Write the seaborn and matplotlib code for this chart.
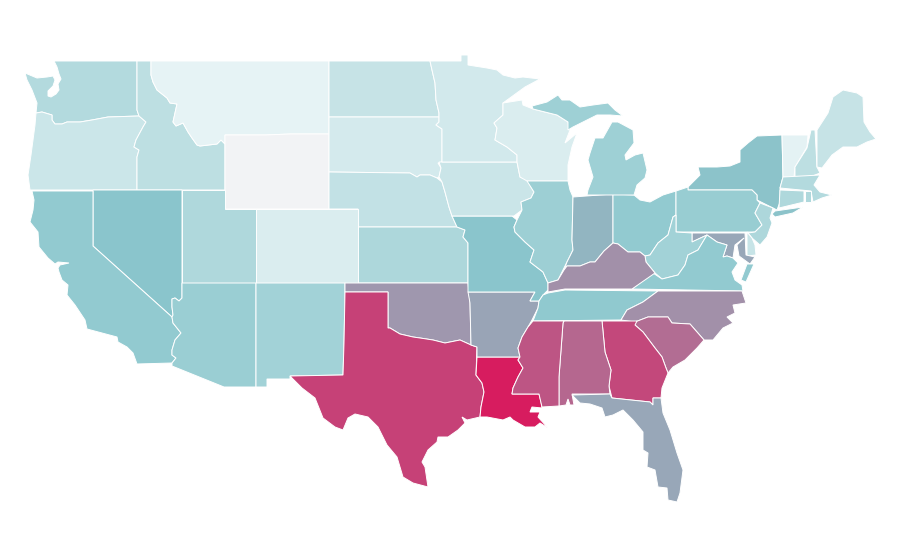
import matplotlib.pyplot as plt
import pandas as pd
import seaborn as sns

sns.set_theme(style="white")

WA = [(54, 61), (137, 61), (137, 110), (139, 116), (108, 117), (92, 120), (80, 122), (67, 122), (62, 124), (55, 124),
      (52, 120), (52, 115), (42, 112), (36, 113), (37, 103), (32, 90), (27, 80), (25, 73), (37, 78), (47, 77), (53, 76),
      (55, 80), (53, 86), (48, 91), (48, 96), (51, 97), (56, 94), (59, 90), (58, 84), (61, 79), (59, 74), (57, 67)]
OR = [(36, 113), (42, 112), (52, 115), (52, 120), (55, 124), (62, 124), (67, 122), (80, 122), (92, 120), (108, 117),
      (139, 116), (146, 122), (143, 127), (136, 140), (134, 147), (139, 150), (137, 157), (137, 190), (30, 190),
      (28, 175), (31, 155), (33, 140), (35, 125)]
ID = [(137, 61), (151, 61), (151, 75), (153, 82), (157, 90), (167, 98), (170, 103), (177, 104), (175, 113), (173, 122),
      (176, 126), (183, 123), (188, 132), (192, 138), (197, 145), (200, 146), (217, 144), (221, 140), (225, 144),
      (225, 190), (137, 190), (137, 157), (139, 150), (134, 147), (136, 140), (143, 127), (146, 122), (139, 116),
      (137, 110)]
MT = [(151, 61), (329, 61), (329, 134), (290, 134), (265, 135), (225, 135), (225, 144), (221, 140), (217, 144),
      (200, 146), (197, 145), (192, 138), (188, 132), (183, 123), (176, 126), (173, 122), (175, 113), (177, 104),
      (170, 103), (167, 98), (157, 90), (153, 82), (151, 75)]
WY = [(225, 135), (265, 135), (290, 134), (329, 134), (329, 209), (225, 209)]
ND = [(329, 61), (430, 61), (432, 70), (435, 83), (436, 100), (439, 113), (439, 117), (329, 117)]
SD = [(329, 117), (439, 117), (439, 122), (436, 125), (442, 129), (442, 162), (438, 163), (441, 168), (439, 177),
      (437, 178), (430, 175), (420, 175), (417, 177), (410, 173), (329, 172)]
NE = [(329, 172), (410, 173), (417, 177), (420, 175), (430, 175), (437, 178), (442, 182), (445, 192), (449, 207),
      (452, 216), (457, 227), (358, 227), (358, 209), (329, 209)]
KS = [(358, 227), (457, 227), (465, 230), (463, 237), (468, 243), (468, 283), (358, 283)]
CO = [(256, 209), (358, 209), (358, 283), (256, 283)]
UT = [(182, 190), (225, 190), (225, 209), (256, 209), (256, 283), (182, 283)]
NV = [(93, 190), (182, 190), (182, 298), (179, 301), (175, 298), (172, 299), (172, 307), (173, 315), (172, 317),
      (93, 246)]
CA = [(32, 191), (93, 191), (93, 246), (172, 317), (173, 323), (181, 333), (175, 340), (172, 350), (172, 355),
      (176, 358), (172, 363), (137, 364), (133, 353), (127, 347), (118, 342), (117, 337), (102, 333), (87, 329),
      (85, 320), (75, 305), (67, 295), (68, 285), (62, 280), (59, 272), (58, 268), (60, 265), (69, 263), (58, 262),
      (55, 264), (48, 258), (39, 247), (38, 232), (30, 222), (33, 210), (34, 200)]
AZ = [(182, 283), (256, 283), (256, 387), (224, 387), (172, 366), (172, 363), (176, 358), (172, 355), (172, 350),
      (175, 340), (181, 333), (173, 323), (172, 317), (173, 315), (172, 307), (172, 299), (175, 298), (179, 301),
      (182, 298)]
NM = [(256, 283), (345, 283), (345, 292), (344, 343), (343, 375), (290, 376), (290, 379), (267, 379), (267, 387),
      (256, 387)]
OK = [(345, 283), (468, 283), (470, 303), (471, 345), (460, 340), (445, 343), (433, 340), (420, 338), (413, 337),
      (400, 334), (390, 328), (388, 328), (388, 292), (345, 292)]
TX = [(345, 292), (388, 292), (388, 328), (390, 328), (400, 334), (413, 337), (420, 338), (433, 340), (445, 343),
      (460, 340), (471, 345), (477, 347), (476, 375), (482, 383), (484, 392), (481, 407), (480, 417), (467, 420),
      (462, 417), (465, 423), (458, 430), (448, 437), (438, 437), (437, 442), (428, 450), (422, 462), (425, 467),
      (428, 487), (413, 483), (403, 477), (397, 457), (387, 445), (378, 427), (368, 417), (355, 414), (348, 418),
      (343, 430), (335, 427), (323, 418), (319, 408), (315, 398), (302, 388), (290, 376), (343, 375), (344, 343)]
LA = [(477, 357), (520, 357), (518, 360), (523, 368), (518, 377), (513, 388), (512, 394), (539, 394), (541, 402),
      (542, 408), (532, 407), (530, 412), (540, 412), (538, 417), (548, 428), (540, 423), (535, 427), (525, 427),
      (513, 420), (510, 417), (503, 420), (487, 417), (480, 417), (481, 407), (484, 392), (482, 383), (476, 375)]
AR = [(468, 292), (535, 292), (530, 301), (539, 301), (538, 308), (532, 320), (528, 327), (522, 337), (518, 348),
      (520, 357), (477, 357), (477, 347), (471, 345), (470, 303)]
MO = [(452, 216), (512, 216), (517, 220), (514, 227), (515, 232), (525, 242), (534, 250), (530, 262), (543, 272),
      (548, 283), (548, 290), (543, 295), (539, 301), (530, 301), (535, 292), (468, 292), (468, 243), (463, 237),
      (465, 230), (457, 227)]
IA = [(439, 162), (517, 162), (520, 177), (527, 180), (534, 192), (531, 198), (521, 202), (522, 210), (514, 216),
      (452, 216), (449, 207), (445, 192), (442, 182), (439, 177), (441, 168)]
MN = [(430, 61), (461, 61), (461, 55), (468, 55), (468, 65), (487, 68), (497, 70), (503, 75), (515, 78), (523, 77),
      (540, 79), (525, 87), (503, 103), (503, 115), (494, 123), (497, 128), (495, 140), (507, 147), (517, 155),
      (517, 162), (442, 162), (442, 129), (436, 125), (439, 122), (439, 113), (436, 100), (435, 83), (432, 70)]
WI = [(503, 103), (522, 100), (523, 105), (533, 109), (557, 115), (568, 122), (570, 130), (565, 143), (577, 133),
      (572, 147), (568, 165), (568, 181), (527, 181), (520, 177), (517, 162), (517, 155), (507, 147), (495, 140),
      (497, 128), (494, 123), (503, 115)]
IL = [(527, 181), (568, 181), (570, 190), (573, 197), (572, 240), (573, 250), (567, 262), (564, 268), (558, 280),
      (548, 283), (543, 272), (530, 262), (534, 250), (525, 242), (515, 232), (514, 227), (517, 220), (522, 210),
      (521, 202), (531, 198), (534, 192)]
IN = [(573, 197), (613, 194), (613, 243), (604, 251), (595, 262), (590, 262), (580, 266), (567, 266), (564, 270),
      (567, 262), (573, 250), (572, 240)]
OH = [(613, 194), (634, 195), (640, 200), (650, 202), (663, 195), (676, 191), (676, 215), (673, 217), (668, 235),
      (658, 243), (650, 255), (645, 256), (640, 252), (628, 252), (618, 244), (613, 243)]
MI_LOWER = [(587, 195), (634, 195), (637, 185), (645, 178), (647, 170), (643, 153), (635, 155), (626, 160), (625, 155),
            (634, 143), (633, 130), (618, 122), (612, 122), (603, 138), (595, 138), (590, 153), (588, 160), (593, 177),
            (588, 190)]
MI_UPPER = [(532, 106), (547, 102), (558, 95), (562, 100), (570, 100), (580, 107), (593, 105), (608, 103), (615, 110),
            (623, 116), (610, 115), (597, 115), (583, 122), (573, 127), (568, 130), (568, 122), (557, 115), (533, 109)]
NY = [(782, 135), (757, 136), (748, 143), (740, 150), (740, 162), (730, 166), (717, 167), (698, 167), (700, 175),
      (688, 187), (688, 190), (752, 190), (757, 195), (757, 200), (773, 208), (777, 210), (780, 202), (780, 188),
      (783, 177)]
NY_ISLAND = [(772, 214), (775, 211), (803, 207), (793, 213), (775, 217)]
PA = [(676, 191), (688, 187), (688, 190), (752, 190), (757, 195), (757, 200), (760, 203), (755, 213), (762, 225),
      (755, 232), (676, 232)]
NJ = [(760, 203), (773, 208), (770, 218), (772, 223), (767, 237), (760, 245), (752, 238), (748, 233), (755, 232),
      (762, 225), (755, 213)]
DE = [(747, 232), (752, 238), (755, 245), (756, 255), (747, 256)]
MD = [(692, 233), (745, 233), (746, 255), (755, 257), (750, 264), (739, 256), (737, 245), (744, 238), (735, 245),
      (733, 258), (727, 256), (723, 257), (727, 245), (717, 242), (707, 235), (692, 242)]
WV = [(676, 215), (676, 232), (692, 233), (692, 242), (707, 235), (698, 250), (688, 255), (685, 265), (678, 275),
      (662, 279), (655, 273), (646, 262), (645, 256), (650, 255), (658, 243), (668, 235), (673, 217)]
VA = [(632, 289), (653, 273), (662, 279), (678, 275), (685, 265), (688, 255), (698, 250), (707, 235), (717, 242),
      (727, 245), (723, 257), (727, 256), (733, 258), (738, 263), (732, 272), (735, 280), (742, 285), (743, 291)]
VA_SHORE = [(747, 264), (754, 264), (746, 282), (741, 280)]
KY = [(548, 292), (548, 283), (558, 280), (564, 270), (567, 266), (580, 266), (590, 262), (595, 262), (604, 251),
      (613, 243), (618, 244), (628, 252), (640, 252), (645, 256), (646, 262), (655, 273), (632, 289), (565, 289)]
TN = [(548, 293), (565, 290), (658, 291), (643, 302), (627, 310), (621, 320), (533, 321), (538, 308), (539, 301),
      (543, 295)]
NC = [(658, 291), (742, 291), (746, 303), (733, 305), (735, 313), (727, 317), (733, 323), (723, 328), (713, 340),
      (704, 340), (690, 324), (672, 323), (668, 317), (648, 317), (635, 322), (621, 320), (627, 310), (643, 302)]
SC = [(635, 322), (648, 317), (668, 317), (672, 323), (690, 324), (704, 340), (697, 348), (685, 360), (673, 367),
      (668, 373), (666, 368), (662, 357), (655, 348), (643, 332), (635, 325)]
GA = [(602, 321), (637, 321), (635, 325), (643, 332), (655, 348), (662, 357), (666, 368), (668, 373), (666, 378),
      (662, 388), (661, 398), (653, 398), (653, 405), (650, 402), (612, 398), (609, 386), (611, 370), (605, 352)]
AL = [(564, 321), (602, 321), (605, 352), (611, 370), (609, 386), (610, 394), (572, 394), (574, 405), (570, 405),
      (568, 399), (566, 405), (559, 406), (559, 377), (563, 323)]
MS = [(533, 321), (564, 321), (563, 323), (559, 377), (559, 406), (542, 407), (539, 394), (512, 394), (513, 388),
      (518, 377), (523, 368), (518, 360), (520, 357), (518, 348), (522, 337), (528, 327)]
FL = [(572, 395), (610, 394), (612, 398), (650, 402), (653, 405), (653, 398), (661, 398), (663, 413), (670, 430),
      (677, 453), (683, 470), (680, 493), (677, 502), (668, 500), (667, 488), (658, 487), (655, 470), (647, 467),
      (648, 453), (643, 450), (643, 432), (633, 420), (623, 410), (613, 415), (605, 417), (602, 408), (590, 404),
      (580, 403)]
VT = [(782, 135), (808, 135), (807, 147), (795, 167), (794, 177), (783, 177)]
NH = [(811, 130), (815, 130), (817, 167), (820, 173), (810, 177), (795, 177), (795, 167), (807, 148)]
ME = [(817, 130), (828, 113), (833, 97), (843, 90), (857, 93), (863, 97), (864, 122), (870, 132), (876, 139),
      (867, 142), (857, 147), (843, 147), (832, 155), (822, 168), (817, 167)]
MA = [(783, 177), (820, 175), (814, 185), (820, 192), (832, 195), (822, 198), (813, 202), (811, 191), (780, 188)]
CT = [(780, 190), (804, 191), (804, 202), (779, 208)]
RI = [(805, 191), (811, 191), (811, 202), (805, 202)]

state_outlines = [
    WA, OR, ID, MT, WY, ND, SD, NE, KS, CO, UT, NV, CA, AZ, NM, OK, TX, LA, AR, MO, IA, MN, WI, IL, IN, OH,
    MI_LOWER, MI_UPPER, NY, NY_ISLAND, PA, NJ, DE, MD, WV, VA, VA_SHORE, KY, TN, NC, SC, GA, AL, MS, FL,
    VT, NH, ME, MA, CT, RI,
]
state_names = [
    "WA", "OR", "ID", "MT", "WY", "ND", "SD", "NE", "KS", "CO", "UT", "NV", "CA", "AZ", "NM", "OK", "TX", "LA",
    "AR", "MO", "IA", "MN", "WI", "IL", "IN", "OH", "MI", "MI", "NY", "NY", "PA", "NJ", "DE", "MD", "WV", "VA",
    "VA", "KY", "TN", "NC", "SC", "GA", "AL", "MS", "FL", "VT", "NH", "ME", "MA", "CT", "RI",
]
# Wyoming has no value, it gets the colormap's "bad" grey
state_values = [
    30, 18, 25, 5, None, 21, 14, 23, 33, 11, 32, 50, 46, 42, 38, 64, 89, 100, 60, 50, 19, 15, 11, 41, 55, 46,
    40, 40, 51, 51, 43, 33, 20, 59, 38, 46, 46, 66, 47, 66, 76, 87, 78, 83, 59, 6, 25, 21, 30, 32, 32,
]

df = pd.DataFrame({"state": state_names, "value": state_values, "outline": state_outlines})
cmap = sns.blend_palette(["#f0f8f9", "#8ac6cc", "#d71c5f"], as_cmap=True)
cmap.set_bad("#f2f3f5")

fig, ax = plt.subplots(figsize=(9, 5.6), dpi=100)
fig.subplots_adjust(0, 0, 1, 1)
for _, row in df.iterrows():
    xs, ys = zip(*row["outline"])
    ax.fill(xs, ys, facecolor=cmap(row["value"] / 100), edgecolor="white", linewidth=0.7)

ax.set_xlim(0, 900)
ax.set_ylim(560, 0)
ax.axis("off")
fig.savefig("out.png", dpi=100)
